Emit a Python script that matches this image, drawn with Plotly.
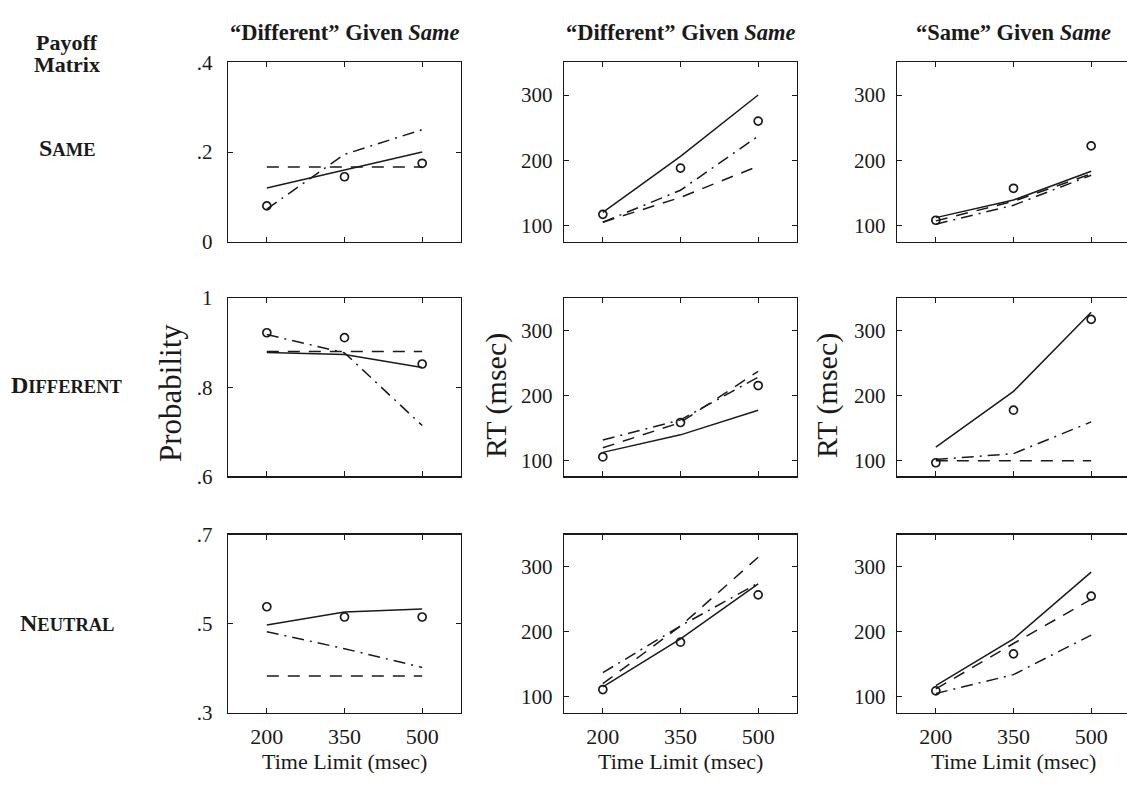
import plotly.graph_objects as go

W, H = 1127, 785

# ---------------- data ----------------
time_limits = [200, 350, 500]
x_ticktext = ["200", "350", "500"]

col_titles = ["\u201cDifferent\u201d Given <i>Same</i>",
              "\u201cDifferent\u201d Given <i>Same</i>",
              "\u201cSame\u201d Given <i>Same</i>"]
row_labels = ["S<span style='font-size:18.5px'>AME</span>",
              "D<span style='font-size:18.5px'>IFFERENT</span>",
              "N<span style='font-size:18.5px'>EUTRAL</span>"]

# Row 1: payoff matrix SAME
same_prob_obs = [0.08, 0.145, 0.175]
same_prob_solid = [0.12, 0.16, 0.20]
same_prob_dash = [0.167, 0.167, 0.167]
same_prob_dashdot = [0.073, 0.195, 0.25]

same_rtd_obs = [117, 188, 260]
same_rtd_solid = [120, 206, 300]
same_rtd_dash = [105, 143, 191]
same_rtd_dashdot = [105, 154, 237]

same_rts_obs = [108, 157, 222]
same_rts_solid = [112, 139, 183]
same_rts_dash = [107, 137, 179]
same_rts_dashdot = [102, 131, 177]

# Row 2: payoff matrix DIFFERENT
diff_prob_obs = [0.922, 0.911, 0.852]
diff_prob_solid = [0.878, 0.873, 0.844]
diff_prob_dash = [0.88, 0.88, 0.88]
diff_prob_dashdot = [0.918, 0.877, 0.714]

diff_rtd_obs = [105, 158, 215]
diff_rtd_solid = [112, 139, 177]
diff_rtd_dash = [119, 158, 237]
diff_rtd_dashdot = [131, 162, 228]

diff_rts_obs = [96, 177, 317]
diff_rts_solid = [120, 206, 328]
diff_rts_dash = [99, 99, 99]
diff_rts_dashdot = [101, 110, 159]

# Row 3: payoff matrix NEUTRAL
neut_prob_obs = [0.538, 0.515, 0.515]
neut_prob_solid = [0.497, 0.526, 0.533]
neut_prob_dash = [0.383, 0.383, 0.383]
neut_prob_dashdot = [0.482, 0.444, 0.402]

neut_rtd_obs = [111, 184, 257]
neut_rtd_solid = [115, 189, 274]
neut_rtd_dash = [120, 209, 315]
neut_rtd_dashdot = [137, 209, 275]

neut_rts_obs = [109, 166, 255]
neut_rts_solid = [117, 189, 292]
neut_rts_dash = [112, 182, 250]
neut_rts_dashdot = [105, 134, 195]

panels = [
    [(same_prob_obs, same_prob_solid, same_prob_dash, same_prob_dashdot),
     (same_rtd_obs, same_rtd_solid, same_rtd_dash, same_rtd_dashdot),
     (same_rts_obs, same_rts_solid, same_rts_dash, same_rts_dashdot)],
    [(diff_prob_obs, diff_prob_solid, diff_prob_dash, diff_prob_dashdot),
     (diff_rtd_obs, diff_rtd_solid, diff_rtd_dash, diff_rtd_dashdot),
     (diff_rts_obs, diff_rts_solid, diff_rts_dash, diff_rts_dashdot)],
    [(neut_prob_obs, neut_prob_solid, neut_prob_dash, neut_prob_dashdot),
     (neut_rtd_obs, neut_rtd_solid, neut_rtd_dash, neut_rtd_dashdot),
     (neut_rts_obs, neut_rts_solid, neut_rts_dash, neut_rts_dashdot)],
]

prob_ranges = [[0, 0.4], [0.6, 1.0], [0.3, 0.7]]
prob_tickvals = [[0, 0.2, 0.4], [0.6, 0.8, 1.0], [0.3, 0.5, 0.7]]
prob_ticktext = [["0", ".2", ".4"], [".6", ".8", "1"], [".3", ".5", ".7"]]
rt_range = [75, 350]
rt_tickvals = [100, 200, 300]
rt_ticktext = ["100", "200", "300"]

# ---------------- layout geometry (pixels) ----------------
col_left = [228, 564, 897]
panel_w = 233
row_top = [52, 295, 539]
row_bot = [237, 479, 723]
x_range = [125, 575]

SERIF = "Liberation Serif, Times New Roman, serif"
INK = "#1a1a1a"
DASH = "12px,9px"
DASHDOT = "12px,6px,2px,6px"

fig = go.Figure()

for r in range(3):
    for c in range(3):
        k = r * 3 + c + 1
        xa = "x" if k == 1 else f"x{k}"
        ya = "y" if k == 1 else f"y{k}"
        obs, solid, dash, dashdot = panels[r][c]
        for ys, dsh in ((solid, "solid"), (dash, DASH), (dashdot, DASHDOT)):
            fig.add_trace(go.Scatter(x=time_limits, y=ys, mode="lines",
                                     line=dict(color=INK, width=1.5, dash=dsh),
                                     xaxis=xa, yaxis=ya, showlegend=False,
                                     hoverinfo="skip"))
        fig.add_trace(go.Scatter(x=time_limits, y=obs, mode="markers",
                                 marker=dict(symbol="circle-open", size=8,
                                             color=INK, line=dict(width=1.7, color=INK)),
                                 xaxis=xa, yaxis=ya, showlegend=False,
                                 hoverinfo="skip"))

        x0 = col_left[c]
        x1 = min(x0 + panel_w, W)
        xr = list(x_range)
        if x0 + panel_w > W:
            xr[1] = x_range[0] + (x_range[1] - x_range[0]) * (W - x0) / panel_w
        xdom = [x0 / W, x1 / W]
        ydom = [1 - row_bot[r] / H, 1 - row_top[r] / H]

        xkey = "xaxis" if k == 1 else f"xaxis{k}"
        ykey = "yaxis" if k == 1 else f"yaxis{k}"
        fig.layout[xkey] = dict(
            domain=xdom, range=xr, anchor=ya,
            tickvals=time_limits, ticktext=x_ticktext,
            showticklabels=(r == 2),
            ticks="inside", ticklen=5, tickwidth=1, tickcolor=INK,
            showline=True, linecolor=INK, linewidth=1.2, mirror="ticks",
            showgrid=False, zeroline=False,
            tickfont=dict(family=SERIF, size=22, color=INK),
            ticklabelstandoff=4,
        )
        if c == 0:
            yr, tv, tt = prob_ranges[r], prob_tickvals[r], prob_ticktext[r]
        else:
            yr, tv, tt = rt_range, rt_tickvals, rt_ticktext
        fig.layout[ykey] = dict(
            domain=ydom, range=yr, anchor=xa,
            tickvals=tv, ticktext=tt,
            ticks="inside", ticklen=5, tickwidth=1, tickcolor=INK,
            showline=True, linecolor=INK, linewidth=1.2,
            mirror=("ticks" if c < 2 else False),
            showgrid=False, zeroline=False,
            tickfont=dict(family=SERIF, size=21, color=INK),
            ticklabelstandoff=(10 if c == 0 else 6),
        )

annotations = []
def ann(text, xpx, ypx, size, bold=False, angle=0):
    annotations.append(dict(
        text=(f"<b>{text}</b>" if bold else text),
        x=xpx / W, y=1 - ypx / H, xref="paper", yref="paper",
        xanchor="center", yanchor="middle", showarrow=False, textangle=angle,
        font=dict(family=SERIF, size=size, color=INK)))

for c in range(3):
    cx = col_left[c] + panel_w / 2
    ann(col_titles[c], cx, 21, 22.5, bold=True)
    ann("Time Limit (msec)", cx, 773, 22)

ann("Payoff", 67, 31, 22, bold=True)
ann("Matrix", 67, 54, 22, bold=True)
for r, ypx in enumerate([140, 385, 630]):
    ann(row_labels[r], 67, ypx, 24, bold=True)

ann("Probability", 171, 393, 31, angle=-90)
ann("RT (msec)", 496, 396, 30, angle=-90)
ann("RT (msec)", 827, 396, 30, angle=-90)

fig.update_layout(
    width=W, height=H,
    margin=dict(l=0, r=0, t=0, b=0),
    paper_bgcolor="white", plot_bgcolor="white",
    annotations=annotations,
    showlegend=False,
)

fig.write_html("out.html",
               config={"displayModeBar": False, "staticPlot": True},
               post_script="document.body.style.margin='0';document.body.style.overflow='hidden';")
